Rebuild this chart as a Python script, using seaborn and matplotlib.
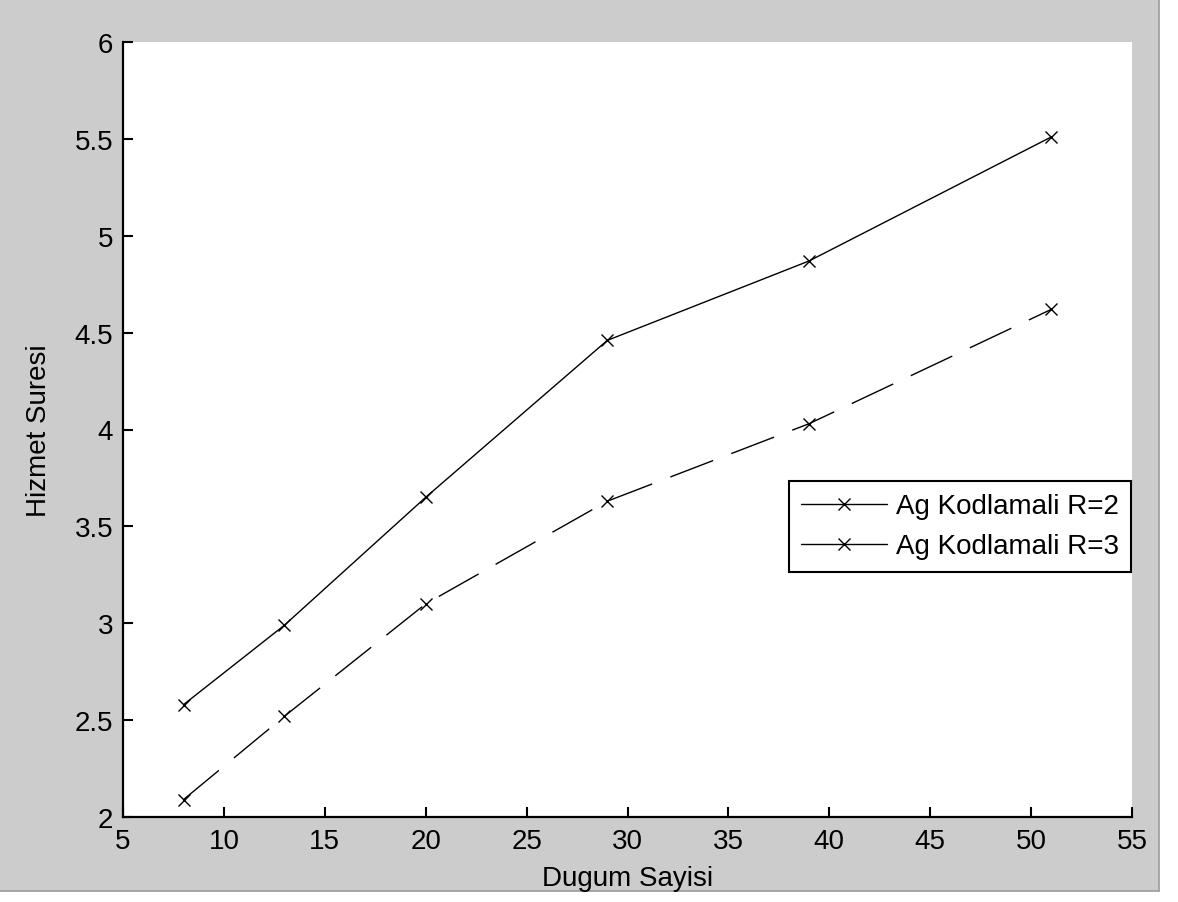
import matplotlib
matplotlib.use("Agg")
import matplotlib.pyplot as plt
from matplotlib.patches import Rectangle
from matplotlib.lines import Line2D
import seaborn as sns
import pandas as pd

# ---- data ----
nodes = [8, 13, 20, 29, 39, 51]
r2_values = [2.58, 2.99, 3.65, 4.46, 4.87, 5.51]
r3_values = [2.09, 2.52, 3.10, 3.63, 4.03, 4.62]
series_names = ["Ag Kodlamali R=2", "Ag Kodlamali R=3"]
x_ticks = [5, 10, 15, 20, 25, 30, 35, 40, 45, 50, 55]
y_ticks = [2, 2.5, 3, 3.5, 4, 4.5, 5, 5.5, 6]
x_label = "Dugum Sayisi"
y_label = "Hizmet Suresi"

df = pd.DataFrame({
    "x": nodes + nodes,
    "y": r2_values + r3_values,
    "series": [series_names[0]] * len(nodes) + [series_names[1]] * len(nodes),
})

sns.set_style("ticks")
plt.rcParams["font.family"] = ["Liberation Sans", "DejaVu Sans"]
plt.rcParams["lines.scale_dashes"] = False
plt.rcParams["text.color"] = "black"
plt.rcParams["axes.labelcolor"] = "black"

FS = 20
W, H = 1178, 903
fig = plt.figure(figsize=(W / 100, H / 100), dpi=100, facecolor="white")

# gray figure panel (MATLAB-like window background)
gray_w, gray_h = 1159, 892
fig.patches.append(Rectangle((0, 1 - gray_h / H), gray_w / W, gray_h / H,
                             transform=fig.transFigure, facecolor="#cccccc",
                             edgecolor="none", zorder=-10))
fig.lines.append(Line2D([gray_w / W, gray_w / W], [1, 1 - gray_h / H],
                        transform=fig.transFigure, color="#9a9a9a", lw=1.2,
                        zorder=-9))
fig.lines.append(Line2D([0, gray_w / W], [1 - gray_h / H, 1 - gray_h / H],
                        transform=fig.transFigure, color="#9a9a9a", lw=1.2,
                        zorder=-9))

ax_l, ax_r, ax_t, ax_b = 123, 1132, 43, 818
ax = fig.add_axes([ax_l / W, 1 - ax_b / H, (ax_r - ax_l) / W, (ax_b - ax_t) / H])
ax.set_facecolor("white")
ax.set_zorder(1)

sns.lineplot(data=df, x="x", y="y", hue="series", style="series",
             palette={series_names[0]: "black", series_names[1]: "black"},
             dashes={series_names[0]: "", series_names[1]: (33, 14)},
             markers={series_names[0]: "x", series_names[1]: "x"},
             markersize=9, markeredgewidth=1.0, markeredgecolor="black",
             linewidth=1.0, legend=False, ax=ax)

ax.set_xlim(5, 55)
ax.set_ylim(2, 6)
ax.set_xticks(x_ticks)
ax.set_yticks(y_ticks)
ax.set_xticklabels([str(v) for v in x_ticks])
ax.set_yticklabels([f"{v:g}" for v in y_ticks])

for s in ["top", "right"]:
    ax.spines[s].set_visible(False)
for s in ["left", "bottom"]:
    ax.spines[s].set_color("black")
    ax.spines[s].set_linewidth(1.6)

ax.tick_params(axis="both", direction="in", length=7, width=1.5,
               labelsize=FS, colors="black")
ax.tick_params(axis="y", pad=7)
ax.tick_params(axis="x", pad=8)

ax.set_xlabel(x_label, fontsize=FS, labelpad=8, color="black")
ax.set_ylabel(y_label, fontsize=FS, labelpad=16, color="black")

handles = [Line2D([], [], color="black", lw=1.0, marker="x", markersize=9,
                  markeredgewidth=1.0, linestyle="-") for _ in series_names]
leg = ax.legend(handles, series_names, loc="upper right",
                bbox_to_anchor=(1131 / W, 1 - 482 / H),
                bbox_transform=fig.transFigure, borderaxespad=0,
                fontsize=FS, frameon=True, fancybox=False, shadow=False,
                handlelength=3.1, handletextpad=0.3, borderpad=0.45,
                labelspacing=0.5)
for t in leg.get_texts():
    t.set_color("black")
frame = leg.get_frame()
frame.set_edgecolor("black")
frame.set_linewidth(1.5)
frame.set_facecolor("white")
frame.set_alpha(1)

fig.savefig("out.png", dpi=100, facecolor=fig.get_facecolor())
